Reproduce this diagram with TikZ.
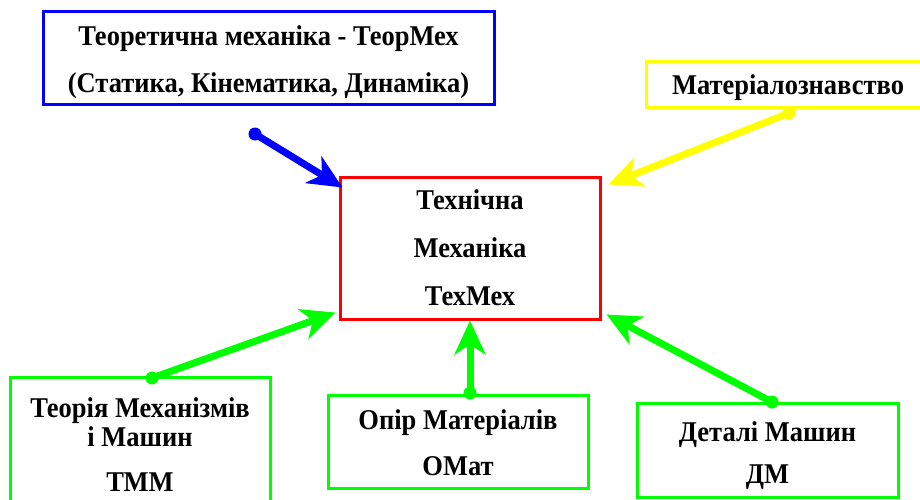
\documentclass[tikz,border=0pt]{standalone}
\usepackage{fontspec}
\setmainfont{Liberation Serif}
\usetikzlibrary{arrows.meta,calc}
\definecolor{cblue}{RGB}{0,0,255}
\definecolor{cred}{RGB}{255,0,0}
\definecolor{cyel}{RGB}{255,255,0}
\definecolor{cgreen}{RGB}{0,255,0}
\newcommand\tallt[1]{\scalebox{1}[1.08]{#1}}
\tikzset{
  box/.style={draw=#1, line width=3pt, inner sep=0pt},
  txt/.style={font=\fontsize{26.5}{30}\selectfont\bfseries, inner sep=0pt, anchor=base},
  conn/.style={draw=#1, line width=7pt, -{Stealth[length=34pt,width=31pt,inset=10pt]}},
  dot/.style={fill=#1, draw=none, circle, minimum size=13pt, inner sep=0pt}
}
\begin{document}
\begin{tikzpicture}[x=1pt,y=-1pt]
\useasboundingbox (0,0) rectangle (920,499);
\clip (0,0) rectangle (920,499);
% boxes
\node[box=cblue, minimum width=451pt, minimum height=93pt] (theor) at (268.5,57.5) {};
\node[box=cyel, minimum width=284pt, minimum height=46pt] (mat) at (788,84) {};
\node[box=cred, minimum width=260pt, minimum height=142pt] (tex) at (470,248) {};
\node[box=cgreen, minimum width=260pt, minimum height=130pt] (tmm) at (140,442) {};
\node[box=cgreen, minimum width=260pt, minimum height=93pt] (omat) at (458,441.5) {};
\node[box=cgreen, minimum width=261pt, minimum height=94pt] (dm) at (767.5,450) {};
% texts
\node[txt] (t1) at (268.5,45) {\tallt{Теоретична механіка - ТеорМех}};
\node[txt] (t2) at (268.5,92) {\tallt{(Статика, Кінематика, Динаміка)}};
\node[txt] (m1) at (788,94) {\tallt{Матеріалознавство}};
\node[txt] (x1) at (470,209) {\tallt{Технічна}};
\node[txt] (x2) at (470,257) {\tallt{Механіка}};
\node[txt] (x3) at (470,305) {\tallt{ТехМех}};
\node[txt] (a1) at (140,417) {\tallt{Теорія Механізмів}};
\node[txt] (a2) at (140,446) {\tallt{і Машин}};
\node[txt] (a3) at (140,491) {\tallt{ТММ}};
\node[txt] (o1) at (458,429) {\tallt{Опір Матеріалів}};
\node[txt] (o2) at (458,475) {\tallt{ОМат}};
\node[txt] (d1) at (767.5,441) {\tallt{Деталі Машин}};
\node[txt] (d2) at (767.5,483) {\tallt{ДМ}};
% connector ends
\coordinate (sb) at (255,134);
\coordinate (sy) at (789,113);
\coordinate (sa) at (152,378);
\coordinate (so) at (470,393);
\coordinate (sd) at (772,402);
\coordinate (eb) at ($(tex.north west)+(4,12)$);
\coordinate (ey) at ($(tex.north east)+(7,9)$);
\coordinate (ea) at ($(tex.south west)+(-3,-8)$);
\coordinate (eo) at (tex.south);
\coordinate (ed) at ($(tex.south east)+(5,-6)$);
\draw[conn=cblue] (sb) -- (eb);
\draw[conn=cyel] (sy) -- (ey);
\draw[conn=cgreen] (sa) -- (ea);
\draw[conn=cgreen] (so) -- (eo);
\draw[conn=cgreen] (sd) -- (ed);
\node[dot=cblue] at (sb) {};
\node[dot=cyel] at (sy) {};
\node[dot=cgreen] at (sa) {};
\node[dot=cgreen] at (so) {};
\node[dot=cgreen] at (sd) {};
\end{tikzpicture}
\end{document}
